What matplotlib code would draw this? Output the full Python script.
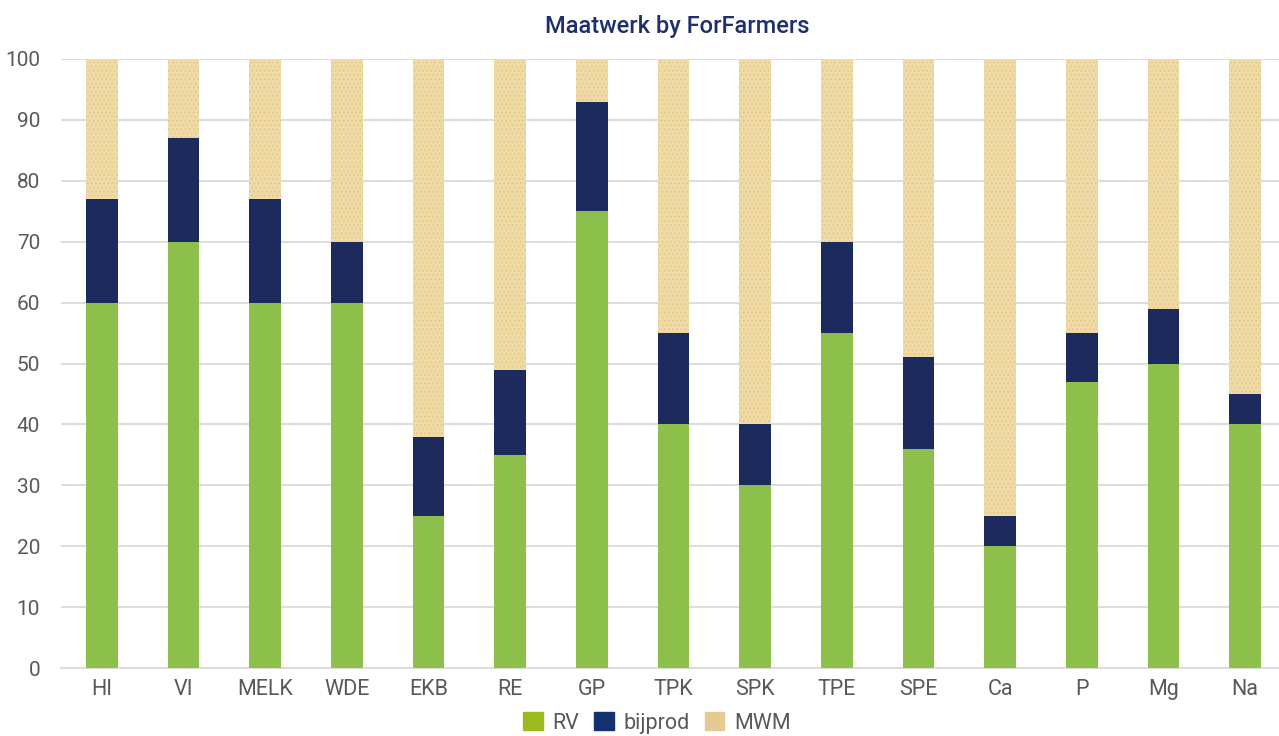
import matplotlib
matplotlib.use("Agg")
import matplotlib.pyplot as plt
from matplotlib.patches import Patch
import numpy as np

categories = ["HI", "VI", "MELK", "WDE", "EKB", "RE", "GP", "TPK", "SPK",
              "TPE", "SPE", "Ca", "P", "Mg", "Na"]
rv = [60, 70, 60, 60, 25, 35, 75, 40, 30, 55, 36, 20, 47, 50, 40]
bijprod = [17, 17, 17, 10, 13, 14, 18, 15, 10, 15, 15, 5, 8, 9, 5]
mwm = [100 - a - b for a, b in zip(rv, bijprod)]

plt.rcParams['font.family'] = ['Roboto', 'DejaVu Sans']
plt.rcParams['hatch.linewidth'] = 0.6

fig = plt.figure(figsize=(12.79, 7.36), dpi=100)
ax = fig.add_axes([61 / 1279, 68 / 736, 1225 / 1279, 609 / 736])

x = np.arange(len(categories))
w = 0.39
ax.bar(x, rv, w, color='#8cc04b', zorder=3)
ax.bar(x, bijprod, w, bottom=rv, color='#1c2a5e', zorder=3)
ax.bar(x, mwm, w, bottom=np.array(rv) + np.array(bijprod), color='#efd9a4',
       hatch='....', edgecolor='#e2c687', linewidth=0, zorder=3)

ax.set_xlim(-0.5, 14.5)
ax.set_ylim(0, 100)
ax.set_yticks(range(0, 101, 10))
ax.set_xticks(x)
ax.set_xticklabels(categories)
ax.tick_params(axis='both', length=0, colors='#595959')
ax.tick_params(axis='x', pad=8, labelsize=15.5)
ax.tick_params(axis='y', pad=15, labelsize=15)
ax.grid(axis='y', color='#dddddd', linewidth=1.5, zorder=0)
for s in ['top', 'right', 'left']:
    ax.spines[s].set_visible(False)
ax.spines['bottom'].set_color('#dddddd')
ax.spines['bottom'].set_linewidth(1.5)

fig.text(677 / 1279, 1 - 27 / 736, "Maatwerk by ForFarmers", ha='center', va='center',
         fontsize=17, fontweight='medium', color='#1f2f6e')

handles = [Patch(color='#9bba1e', label='RV'),
           Patch(color='#13306f', label='bijprod'),
           Patch(color='#e6ca94', label='MWM')]
fig.legend(handles=handles, loc='center', bbox_to_anchor=(657 / 1279, 1 - 723 / 736),
           ncol=3, frameon=False, fontsize=15.5, handlelength=0.9, handleheight=0.9,
           handletextpad=0.45, columnspacing=0.7, labelcolor='#595959')

fig.savefig("out.png", dpi=100)
